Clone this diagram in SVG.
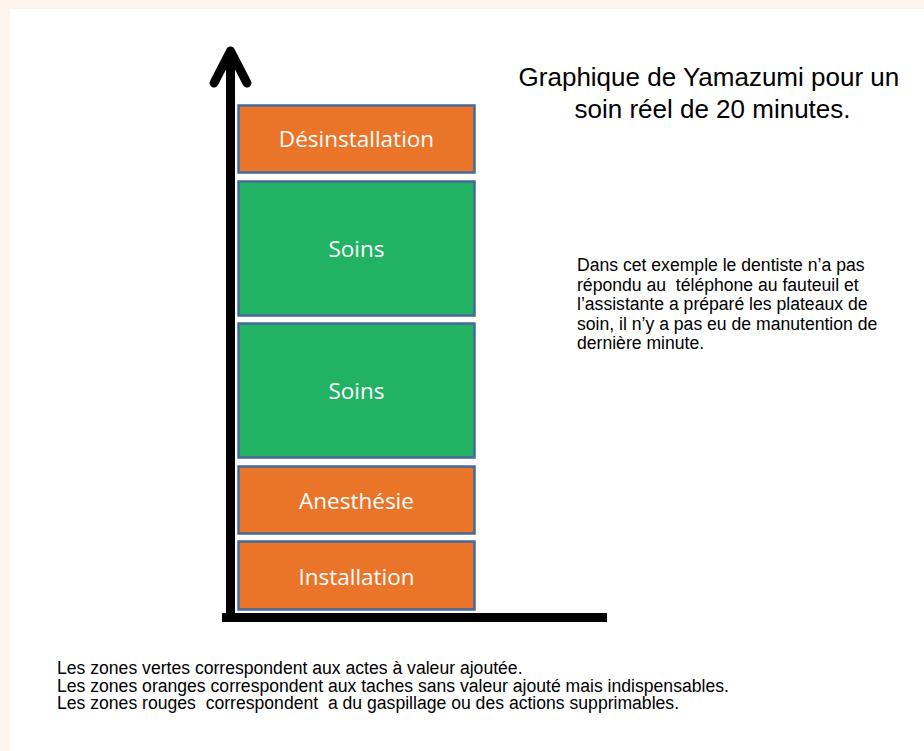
<svg xmlns="http://www.w3.org/2000/svg" width="924" height="751" viewBox="0 0 924 751">
  <style>
    .box { stroke: #46699C; stroke-width: 2.5; }
    .orange { fill: #EA7428; }
    .green { fill: #21B363; }
    .lbl { font-family: "Open Sans", "Liberation Sans", sans-serif; font-size: 22.5px; fill: #FFFFFF; text-anchor: middle; }
    .txt { font-family: "Liberation Sans", Arial, sans-serif; fill: #000000; }
    .axis { stroke: #000000; stroke-width: 9; fill: none; }
  </style>
  <rect x="0" y="0" width="924" height="751" fill="#FEF4EB"/>
  <rect x="10" y="9" width="914" height="742" fill="#FFFFFF"/>

  <g id="axes">
    <line class="axis" x1="230.5" y1="52" x2="230.5" y2="622"/>
    <polyline class="axis" points="214,83 230.5,51 247,83" stroke-linecap="round" stroke-linejoin="round"/>
    <line class="axis" x1="222" y1="617.5" x2="607" y2="617.5"/>
  </g>

  <g id="node-desinstallation">
    <rect class="box orange" x="238.5" y="105.5" width="236" height="67"/>
    <text class="lbl" x="356.5" y="147">Désinstallation</text>
  </g>
  <g id="node-soins-1">
    <rect class="box green" x="238.5" y="181.5" width="236" height="134"/>
    <text class="lbl" x="356.5" y="257">Soins</text>
  </g>
  <g id="node-soins-2">
    <rect class="box green" x="238.5" y="323.5" width="236" height="134"/>
    <text class="lbl" x="356.5" y="399">Soins</text>
  </g>
  <g id="node-anesthesie">
    <rect class="box orange" x="238.5" y="466.5" width="236" height="67"/>
    <text class="lbl" x="356.5" y="509">Anesthésie</text>
  </g>
  <g id="node-installation">
    <rect class="box orange" x="238.5" y="541.5" width="236" height="68"/>
    <text class="lbl" x="356.5" y="585">Installation</text>
  </g>

  <g id="title">
    <text class="txt" font-size="26" text-anchor="middle">
      <tspan x="712.5" y="86">Graphique de Yamazumi pour un</tspan>
      <tspan x="712.5" y="118">soin réel de 20 minutes.</tspan>
    </text>
  </g>

  <g id="note">
    <text class="txt" font-size="17.6" xml:space="preserve"><tspan x="577" y="271">Dans cet exemple le dentiste n’a pas</tspan><tspan x="577" y="290.5">répondu au  téléphone au fauteuil et</tspan><tspan x="577" y="310">l’assistante a préparé les plateaux de</tspan><tspan x="577" y="329.5">soin, il n’y a pas eu de manutention de</tspan><tspan x="577" y="349">dernière minute.</tspan></text>
  </g>

  <g id="legend">
    <text class="txt" font-size="17.6" xml:space="preserve"><tspan x="57" y="674.3">Les zones vertes correspondent aux actes à valeur ajoutée.</tspan><tspan x="57" y="691.7">Les zones oranges correspondent aux taches sans valeur ajouté mais indispensables.</tspan><tspan x="57" y="709">Les zones rouges  correspondent  a du gaspillage ou des actions supprimables.</tspan></text>
  </g>
</svg>
